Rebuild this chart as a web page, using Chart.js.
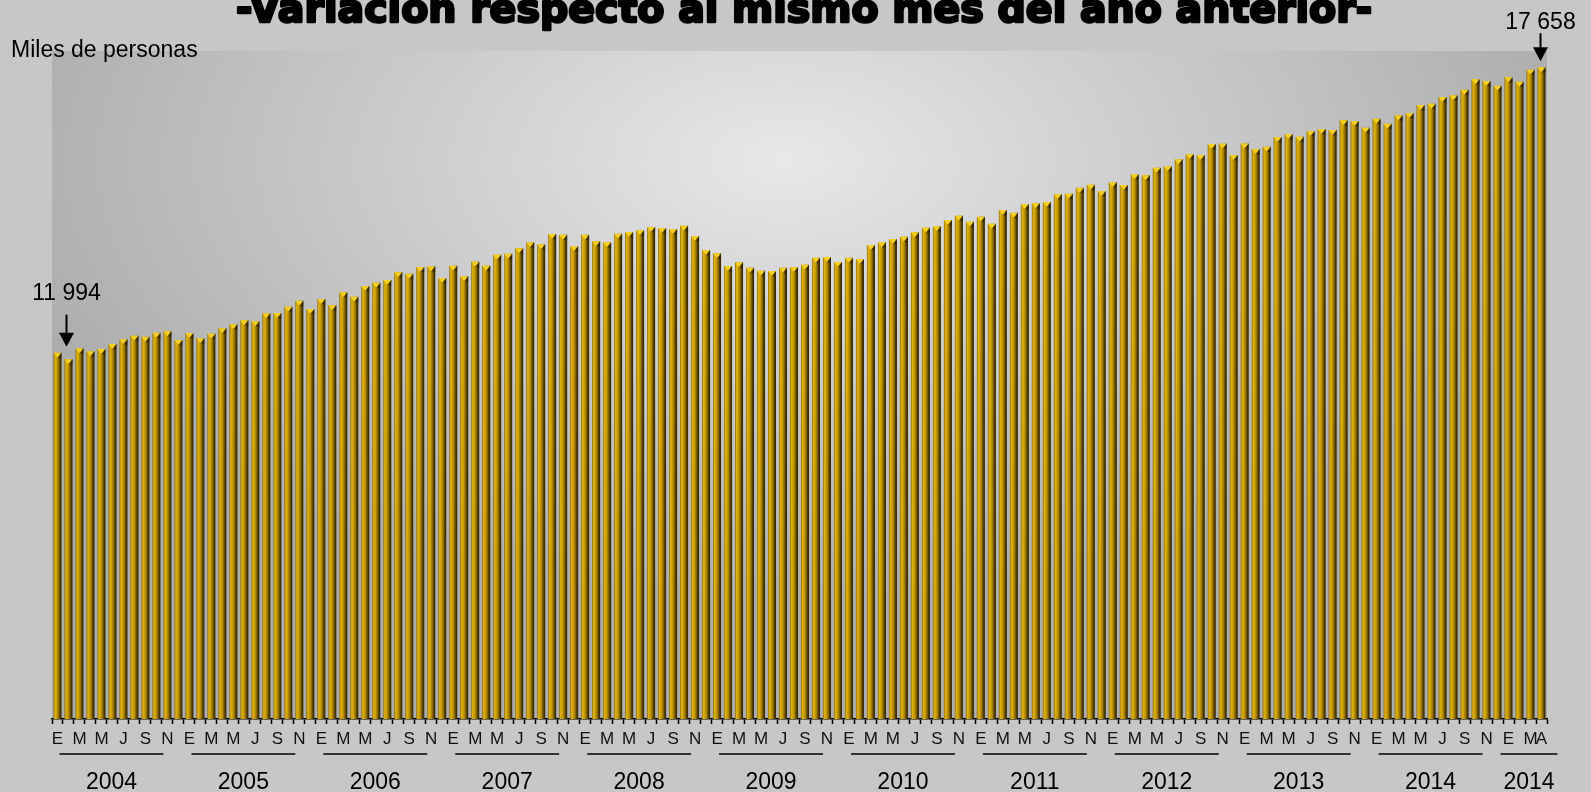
<!doctype html><html lang="es"><head>
<meta charset="UTF-8"><title>Miles de personas</title>
<script src="https://cdn.jsdelivr.net/npm/chart.js@4"></script>
<style>
 body{margin:0;background:#c7c7c7;overflow:hidden}
 #wrap{position:relative;width:1591px;height:792px}
</style></head><body>
<div id="wrap"><canvas id="chart"></canvas></div>
<script>
// ----- data: monthly values, Jan 2004 .. Apr 2015 (miles de personas) -----
const values = [
  11994,11863,12081,12022,12067,12167,12260,12331,12312,12391,12419,12246,
  12385,12280,12371,12478,12558,12637,12617,12776,12782,12907,13026,12861,
  13060,12935,13193,13105,13318,13383,13437,13590,13562,13695,13709,13477,
  13721,13510,13800,13721,13939,13959,14066,14185,14145,14350,14336,14106,
  14336,14205,14185,14356,14389,14423,14489,14469,14449,14514,14310,14032,
  13967,13715,13788,13681,13621,13615,13681,13695,13740,13879,13893,13794,
  13879,13854,14131,14185,14250,14296,14383,14475,14503,14628,14713,14594,
  14693,14554,14826,14772,14945,14959,14985,15144,15150,15269,15328,15203,
  15376,15322,15535,15515,15666,15693,15832,15937,15918,16136,16142,15918,
  16146,16037,16082,16275,16334,16281,16394,16434,16414,16606,16592,16459,
  16638,16539,16705,16751,16910,16936,17069,17102,17213,17420,17386,17293,
  17460,17372,17610,17658
];
const yearTicks = ['E','','M','','M','','J','','S','','N',''];
const lastTicks = ['E','','M','A'];
const years     = ['2004','2005','2006','2007','2008','2009','2010','2011','2012','2013','2014','2014'];
const yearStart = [0,12,24,36,48,60,72,84,96,108,120,132];

const tickLabels = [];
for (let y = 0; y < 11; y++) tickLabels.push(...yearTicks);
tickLabels.push(...lastTicks);
const categories = tickLabels.map((t,i)=>i);

const FONT = '"Liberation Sans", Arial, sans-serif';
const BAR_PCT = 0.73;

function fmt(v){ return String(v).replace(/\B(?=(\d{3})+(?!\d))/g,' '); }

// golden cylinder fill, one gradient per bar
function barFill(ctx){
  const chart = ctx.chart, xs = chart.scales.x;
  if (ctx.type !== 'data' || !xs) return '#c09000';
  const cx = xs.getPixelForValue(ctx.dataIndex);
  const w  = (xs.right - xs.left) / values.length * BAR_PCT;
  if (!isFinite(cx) || !isFinite(w) || w <= 0) return '#c09000';
  const g  = chart.ctx.createLinearGradient(cx - w/2, 0, cx + w/2, 0);
  g.addColorStop(0.00, '#8a6a08');
  g.addColorStop(0.18, '#e0b018');
  g.addColorStop(0.40, '#cc9e04');
  g.addColorStop(0.62, '#9a7400');
  g.addColorStop(0.82, '#4e3b00');
  g.addColorStop(1.00, '#2e2300');
  return g;
}

const backdrop = {
  id:'backdrop',
  beforeDraw(chart){
    const {ctx, chartArea:a} = chart;
    ctx.save();
    ctx.fillStyle = '#c7c7c7';
    ctx.fillRect(0,0,chart.width,chart.height);
    const cx = a.left + (a.right-a.left)*0.49, cy = a.top + 110;
    ctx.beginPath(); ctx.rect(a.left, a.top, a.right-a.left, a.bottom-a.top); ctx.clip();
    ctx.translate(cx, cy); ctx.scale(1, 0.55);
    const g = ctx.createRadialGradient(0,0,0,0,0,800);
    g.addColorStop(0, '#e8e8e8');
    g.addColorStop(1, '#adadad');
    ctx.fillStyle = g;
    ctx.fillRect(-1000, -2000, 2000, 4000);
    ctx.restore();
  }
};

const extras = {
  id:'extras',
  afterDatasetsDraw(chart){
    const {ctx} = chart;
    const bars = chart.getDatasetMeta(0).data;
    ctx.save();
    bars.forEach(b=>{
      const h = b.width/2;
      ctx.beginPath();
      ctx.moveTo(b.x-h, b.y); ctx.lineTo(b.x+h, b.y); ctx.lineTo(b.x, b.y+5); ctx.closePath();
      ctx.fillStyle = '#f6d020'; ctx.fill();
      ctx.beginPath();
      ctx.moveTo(b.x, b.y+5); ctx.lineTo(b.x+h, b.y); ctx.lineTo(b.x+h, b.y+6); ctx.closePath();
      ctx.fillStyle = 'rgba(50,35,0,0.6)'; ctx.fill();
    });
    ctx.restore();
  },
  afterDraw(chart){
    const {ctx} = chart, xs = chart.scales.x;
    const bars = chart.getDatasetMeta(0).data;
    ctx.save();
    ctx.fillStyle = '#000'; ctx.strokeStyle = '#000';

    // title (cut at the top edge like the source)
    const title = '-Variación respecto al mismo mes del año anterior-';
    ctx.font = 'bold 39.5px "DejaVu Sans", sans-serif';
    ctx.textAlign = 'center'; ctx.textBaseline = 'alphabetic';
    ctx.lineWidth = 2.6; ctx.lineJoin = 'round';
    ctx.strokeText(title, 804, 22);
    ctx.fillText(title, 804, 22);

    ctx.font = '23px ' + FONT;
    ctx.textAlign = 'left';
    ctx.fillText('Miles de personas', 11, 57);

    // year underlines + labels
    ctx.lineWidth = 1.6;
    ctx.textAlign = 'center';
    years.forEach((yr,k)=>{
      const s = yearStart[k];
      let x0, x1;
      if (k < years.length-1){
        x0 = xs.getPixelForValue(s) + 2;
        x1 = xs.getPixelForValue(s+10) - 4;
      } else {
        x0 = xs.getPixelForValue(s) - 8;
        x1 = xs.getPixelForValue(values.length-1) + 16;
      }
      ctx.beginPath(); ctx.moveTo(x0, 754); ctx.lineTo(x1, 754); ctx.stroke();
      ctx.fillText(yr, (x0+x1)/2, 789);
    });

    // first / last value callouts
    const callout = (i, dx, gap, shaft, textGap) => {
      const b = bars[i];
      const x = b.x + dx, tip = b.y - gap;
      ctx.lineWidth = 2;
      ctx.beginPath(); ctx.moveTo(x, tip-shaft); ctx.lineTo(x, tip-12); ctx.stroke();
      ctx.beginPath(); ctx.moveTo(x-7.5, tip-14); ctx.lineTo(x+7.5, tip-14); ctx.lineTo(x, tip); ctx.closePath(); ctx.fill();
      ctx.fillText(fmt(values[i]), x, tip-shaft-textGap);
    };
    callout(0, 9, 6, 32, 15);
    callout(values.length-1, -1, 6, 28, 4);
    ctx.restore();
  }
};

new Chart(document.getElementById('chart'), {
  type:'bar',
  data:{ labels:categories, datasets:[{
    data:values, backgroundColor:barFill, borderWidth:0,
    categoryPercentage:1, barPercentage:BAR_PCT
  }]},
  options:{
    responsive:true, maintainAspectRatio:false, animation:false,
    layout:{ padding:{ left:52, right:44, top:51, bottom:0 } },
    plugins:{ legend:{display:false}, tooltip:{enabled:false} },
    scales:{
      x:{
        offset:true,
        grid:{ display:true, offset:true, drawOnChartArea:false, drawTicks:true,
               tickLength:5, tickColor:'#000', tickWidth:1.5 },
        border:{ display:true, color:'#000', width:1.5 },
        ticks:{ autoSkip:false, maxRotation:0, minRotation:0, padding:5,
                color:'#111', font:{ family:FONT, size:17 },
                callback:(v,i)=>tickLabels[i] },
        afterFit:s=>{ s.height = 73; }
      },
      y:{ display:false, min:4724, max:17982 }
    }
  },
  plugins:[backdrop, extras]
});
</script>
</body></html>
